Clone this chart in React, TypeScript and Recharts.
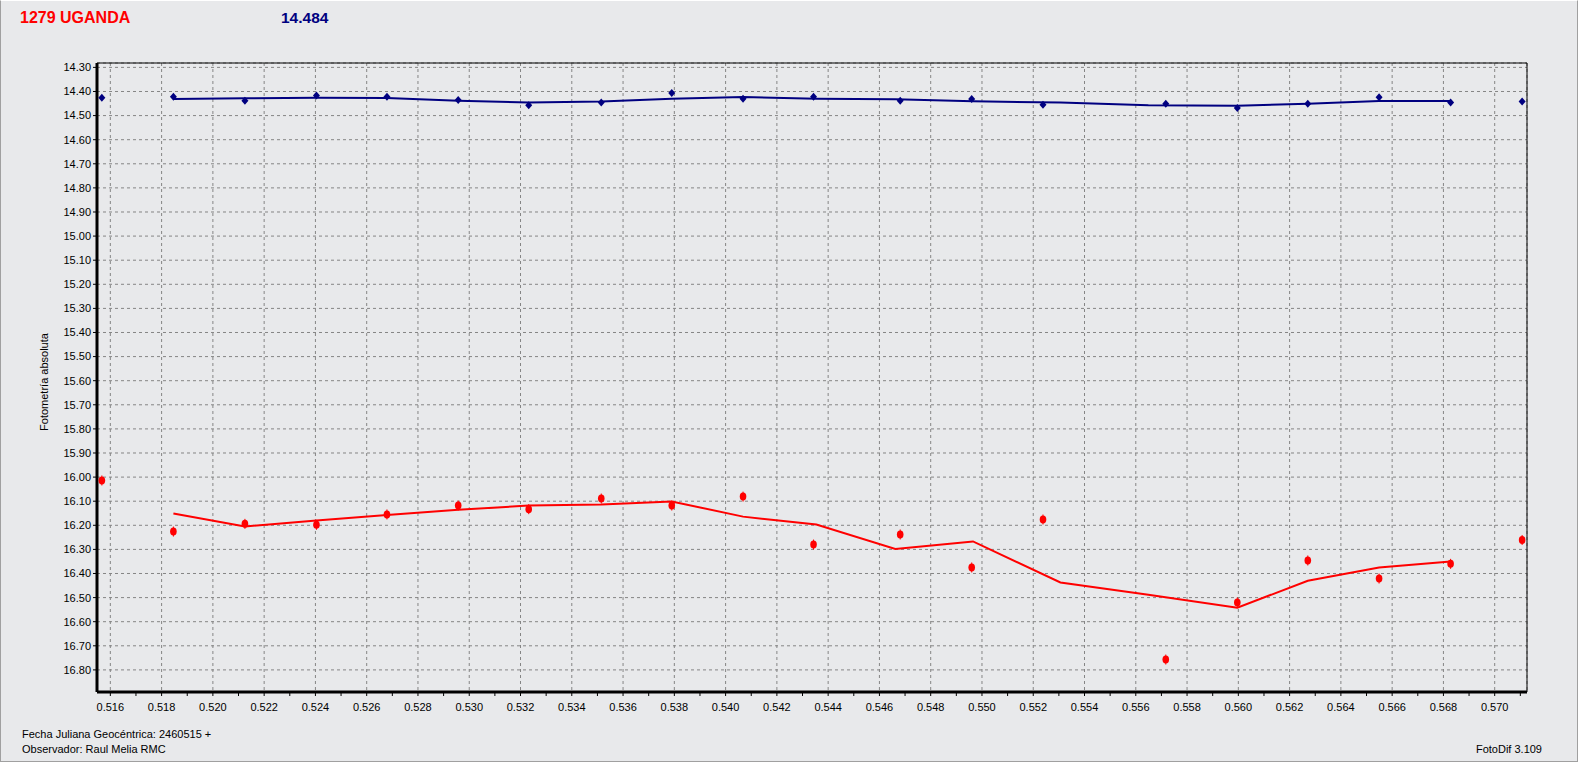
import {
  ComposedChart,
  XAxis,
  YAxis,
  CartesianGrid,
  Line,
  Scatter,
  ReferenceLine,
} from 'recharts'

// Fecha Juliana (fraccion sobre 2460515)
const jd = [
  0.51567, 0.51846, 0.52125, 0.52404, 0.52679, 0.52957, 0.53232, 0.53515, 0.5379, 0.54068,
  0.54343, 0.54681, 0.5496, 0.55238, 0.55717, 0.55996, 0.56271, 0.56549, 0.56828, 0.57107,
]
// estrella de referencia (azul)
const refMag = [
  14.426, 14.422, 14.438, 14.417, 14.422, 14.435, 14.457, 14.446, 14.406, 14.43,
  14.422, 14.438, 14.431, 14.455, 14.451, 14.468, 14.451, 14.424, 14.446, 14.442,
]
// asteroide (rojo)
const targetMag = [
  16.014, 16.226, 16.194, 16.198, 16.155, 16.118, 16.133, 16.089, 16.118, 16.081,
  16.28, 16.238, 16.375, 16.176, 16.757, 16.52, 16.346, 16.421, 16.36, 16.261,
]
// lineas promedio
const avgJd = [
  0.51846, 0.52125, 0.52404, 0.52679, 0.52957, 0.53232, 0.53515, 0.5379, 0.54068, 0.54354,
  0.54662, 0.54965, 0.55306, 0.55649, 0.55996, 0.56271, 0.56549, 0.56828,
]
const refAvg = [
  14.431, 14.428, 14.426, 14.427, 14.438, 14.446, 14.442, 14.43, 14.423, 14.43,
  14.432, 14.441, 14.446, 14.457, 14.459, 14.451, 14.439, 14.439,
]
const targetAvg = [
  16.151, 16.205, 16.18, 16.157, 16.136, 16.118, 16.114, 16.101, 16.164, 16.197,
  16.298, 16.267, 16.437, 16.488, 16.542, 16.43, 16.375, 16.35,
]

const xMajorTicks = [
  0.516, 0.518, 0.52, 0.522, 0.524, 0.526, 0.528, 0.53, 0.532, 0.534, 0.536, 0.538, 0.54, 0.542,
  0.544, 0.546, 0.548, 0.55, 0.552, 0.554, 0.556, 0.558, 0.56, 0.562, 0.564, 0.566, 0.568, 0.57,
]
const xMinorTicks = [
  0.517, 0.519, 0.521, 0.523, 0.525, 0.527, 0.529, 0.531, 0.533, 0.535, 0.537, 0.539, 0.541, 0.543,
  0.545, 0.547, 0.549, 0.551, 0.553, 0.555, 0.557, 0.559, 0.561, 0.563, 0.565, 0.567, 0.569, 0.571,
]
const yTicks = [
  14.3, 14.4, 14.5, 14.6, 14.7, 14.8, 14.9, 15.0, 15.1, 15.2, 15.3, 15.4, 15.5,
  15.6, 15.7, 15.8, 15.9, 16.0, 16.1, 16.2, 16.3, 16.4, 16.5, 16.6, 16.7, 16.8,
]

const xDomain: [number, number] = [0.51548, 0.57126]
const yDomain: [number, number] = [14.2818, 16.8917]

const refPts = jd.map((x, i) => ({ x, y: refMag[i] }))
const targetPts = jd.map((x, i) => ({ x, y: targetMag[i] }))
const refLine = avgJd.map((x, i) => ({ x, y: refAvg[i] }))
const targetLine = avgJd.map((x, i) => ({ x, y: targetAvg[i] }))

const allXTicks = [...xMajorTicks, ...xMinorTicks].sort((a, b) => a - b)

const tickFont = { fontFamily: 'Liberation Sans, Arial, sans-serif', fontSize: 11, fill: '#000' }
const smallText: React.CSSProperties = {
  position: 'absolute',
  fontFamily: 'Liberation Sans, Arial, sans-serif',
  fontSize: 11,
  color: '#000',
  whiteSpace: 'nowrap',
}

const BlueDot = (props: any) => {
  const { cx, cy } = props
  if (cx == null || cy == null) return null
  return <path d={`M${cx},${cy - 4} L${cx + 3.5},${cy} L${cx},${cy + 4} L${cx - 3.5},${cy} Z`} fill="#000080" />
}

const RedDot = (props: any) => {
  const { cx, cy } = props
  if (cx == null || cy == null) return null
  return (
    <g>
      <line x1={cx} x2={cx} y1={cy - 5} y2={cy + 5} stroke="#ff0000" strokeWidth={1} />
      <ellipse cx={cx} cy={cy} rx={3.3} ry={4} fill="#ff0000" />
    </g>
  )
}

export default function App() {
  return (
    <div style={{ position: 'relative', width: 1578, height: 762, background: '#e8e9eb', overflow: 'hidden' }}>
      <style>{`body{margin:0}`}</style>
      <div
        style={{
          position: 'absolute', left: 0, top: 0, width: 1578, height: 762, boxSizing: 'border-box',
          borderLeft: '1px solid #a0a0a0', borderRight: '1px solid #a0a0a0', borderBottom: '1px solid #a0a0a0',
          borderTop: '1px solid #ffffff',
        }}
      />
      <div style={{ position: 'absolute', left: 20, top: 9, fontFamily: 'Liberation Sans, Arial, sans-serif', fontWeight: 'bold', fontSize: 16, color: '#ff0000' }}>
        1279 UGANDA
      </div>
      <div style={{ position: 'absolute', left: 281, top: 9, fontFamily: 'Liberation Sans, Arial, sans-serif', fontWeight: 'bold', fontSize: 15.5, color: '#000080' }}>
        14.484
      </div>
      <div
        style={{
          ...smallText,
          left: 44,
          top: 382,
          transform: 'translate(-50%, -50%) rotate(-90deg)',
        }}
      >
        Fotometría absoluta
      </div>
      <div style={{ ...smallText, left: 22, top: 728 }}>Fecha Juliana Geocéntrica: 2460515 +</div>
      <div style={{ ...smallText, left: 22, top: 743 }}>Observador: Raul Melia RMC</div>
      <div style={{ ...smallText, right: 1578 - 1542, top: 743 }}>FotoDif 3.109</div>

      <div style={{ position: 'absolute', left: 0, top: 0 }}>
        <ComposedChart width={1578} height={762} margin={{ top: 63, right: 51, bottom: 40, left: 37 }}>
          <CartesianGrid xAxisId="grid" stroke="#858585" strokeDasharray="3 3" />
          <XAxis
            dataKey="x"
            type="number"
            domain={xDomain}
            ticks={allXTicks}
            allowDataOverflow
            height={30}
            tickSize={4}
            tickMargin={7}
            tick={tickFont}
            tickLine={{ stroke: '#000' }}
            axisLine={{ stroke: '#000', strokeWidth: 3 }}
            tickFormatter={(v: number) => (xMajorTicks.some((t) => Math.abs(t - v) < 1e-7) ? v.toFixed(3) : '')}
          />
          <XAxis xAxisId="grid" dataKey="x" type="number" domain={xDomain} ticks={xMajorTicks} allowDataOverflow hide />
          <YAxis
            dataKey="y"
            type="number"
            domain={yDomain}
            ticks={yTicks}
            reversed
            allowDataOverflow
            width={60}
            tickSize={4}
            tickMargin={2}
            tick={tickFont}
            tickLine={{ stroke: '#000' }}
            axisLine={{ stroke: '#000', strokeWidth: 3 }}
            tickFormatter={(v: number) => v.toFixed(2)}
          />
          <ReferenceLine y={yDomain[0]} stroke="#000" strokeWidth={1} />
          <ReferenceLine x={xDomain[1]} stroke="#000" strokeWidth={1} />
          <Line data={refLine} dataKey="y" type="linear" stroke="#000080" strokeWidth={2} dot={false} isAnimationActive={false} />
          <Line data={targetLine} dataKey="y" type="linear" stroke="#ff0000" strokeWidth={2} dot={false} isAnimationActive={false} />
          <Scatter data={refPts} dataKey="y" shape={BlueDot} isAnimationActive={false} />
          <Scatter data={targetPts} dataKey="y" shape={RedDot} isAnimationActive={false} />
        </ComposedChart>
      </div>
    </div>
  )
}
